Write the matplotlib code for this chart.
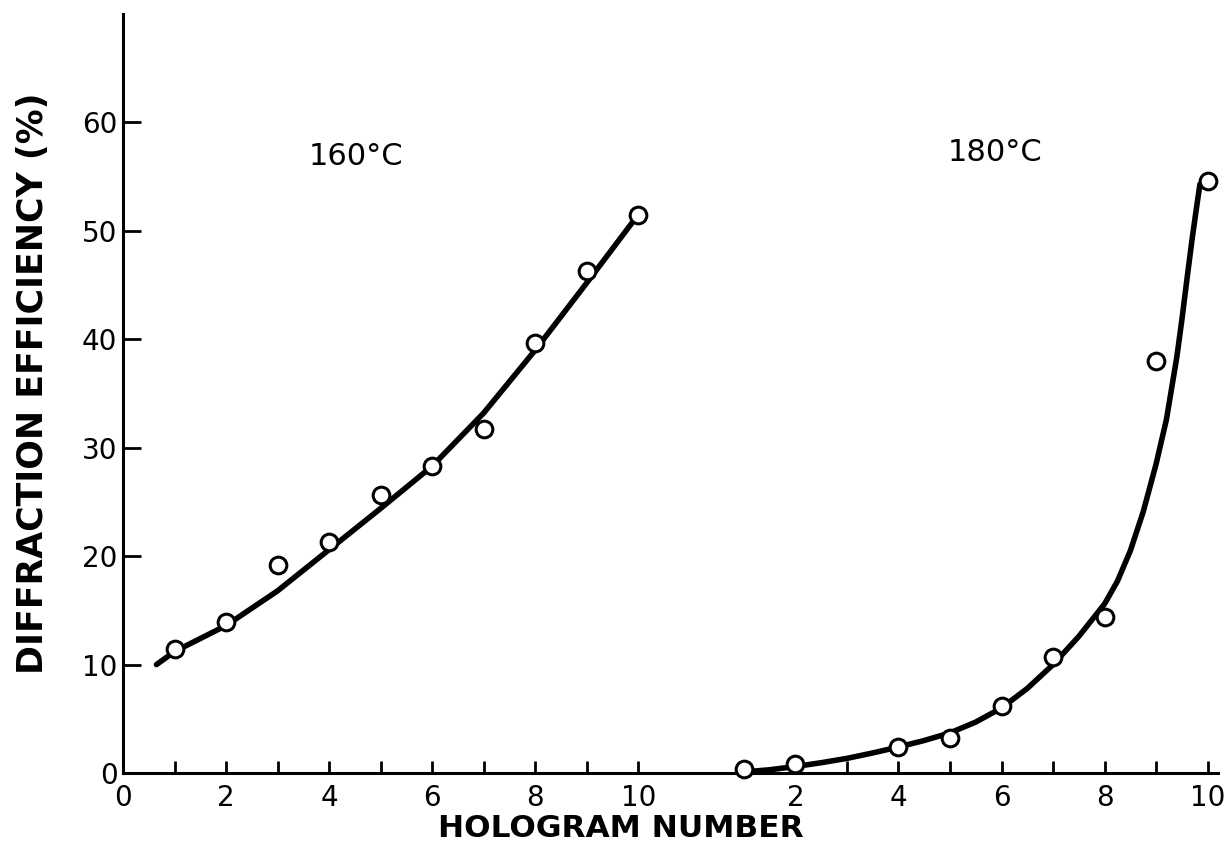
import matplotlib
matplotlib.use('Agg')
import matplotlib.pyplot as plt

# measured diffraction efficiency (%) per hologram, two baking temperatures
holo_160 = [1, 2, 3, 4, 5, 6, 7, 8, 9, 10]
eff_160 = [11.4, 13.9, 19.2, 21.3, 25.6, 28.3, 31.7, 39.7, 46.3, 51.5]

holo_180 = [1, 2, 4, 5, 6, 7, 8, 9, 10]
eff_180 = [0.4, 0.8, 2.4, 3.2, 6.2, 10.7, 14.4, 38.0, 54.6]

# hand-drawn trend curves, points taken along each line
curve_160_x = [0.65, 1, 2, 3, 4, 5, 6, 7, 8, 9, 10]
curve_160_y = [10.0, 11.2, 13.6, 16.8, 20.6, 24.4, 28.3, 33.2, 39.0, 45.2, 51.5]

curve_180_x = [1, 1.5, 2, 2.5, 3, 3.5, 4, 4.5, 5, 5.5, 6, 6.5, 7, 7.5, 8,
               8.25, 8.5, 8.75, 9.0, 9.2, 9.4, 9.5, 9.6, 9.7, 9.78, 9.85]
curve_180_y = [0.1, 0.3, 0.6, 0.95, 1.35, 1.85, 2.4, 3.0, 3.7, 4.7, 6.0, 7.8, 10.0,
               12.6, 15.6, 17.7, 20.5, 24.1, 28.5, 32.6, 38.3, 41.8, 45.6, 49.3, 52.0, 54.3]

# the 180 C set shares the axis, shifted to the right
shift = 11.05

def shifted(xs):
    return [x + shift for x in xs]

plt.rcParams['font.family'] = 'DejaVu Sans'

fig = plt.figure(figsize=(12.31, 8.52), dpi=100)
ax = fig.add_axes([0.0999, 0.0927, 0.8895, 0.8909])

ax.plot(curve_160_x, curve_160_y, color='black', lw=4, solid_capstyle='round',
        solid_joinstyle='round', zorder=2)
ax.plot(shifted(curve_180_x), curve_180_y, color='black', lw=4, solid_capstyle='round',
        solid_joinstyle='round', zorder=2)

marker_style = dict(ls='none', marker='o', ms=12, mfc='white', mec='black', mew=2.2,
                    zorder=3, clip_on=False)
ax.plot(holo_160, eff_160, **marker_style)
ax.plot(shifted(holo_180), eff_180, **marker_style)

ax.text(4.53, 56.9, '160°C', fontsize=22, ha='center', va='center')
ax.text(16.92, 57.2, '180°C', fontsize=22, ha='center', va='center')

ax.set_xlim(0, 21.25)
ax.set_ylim(0, 70)

for side in ['top', 'right']:
    ax.spines[side].set_visible(False)
for side in ['left', 'bottom']:
    ax.spines[side].set_linewidth(2.2)

major_x = [0, 2, 4, 6, 8, 10] + shifted([2, 4, 6, 8, 10])
major_lbl = ['0', '2', '4', '6', '8', '10', '2', '4', '6', '8', '10']
minor_x = [1, 3, 5, 7, 9] + shifted([3, 5, 7, 9])
ax.set_xticks(major_x)
ax.set_xticklabels(major_lbl)
ax.set_xticks(minor_x, minor=True)
ax.set_yticks([0, 10, 20, 30, 40, 50, 60])

ax.tick_params(axis='x', which='both', direction='in', length=9, width=2, pad=8, labelsize=20)
ax.tick_params(axis='y', direction='in', length=13, width=2, pad=4, labelsize=20)

ax.set_xlabel('HOLOGRAM NUMBER', fontsize=22.5, fontweight='bold')
ax.xaxis.set_label_coords(0.4548, -0.0535)
ax.set_ylabel('DIFFRACTION EFFICIENCY (%)', fontsize=25, fontweight='bold')
ax.yaxis.set_label_coords(-0.0667, 0.514)

fig.savefig('out.png', dpi=100, facecolor='white')
